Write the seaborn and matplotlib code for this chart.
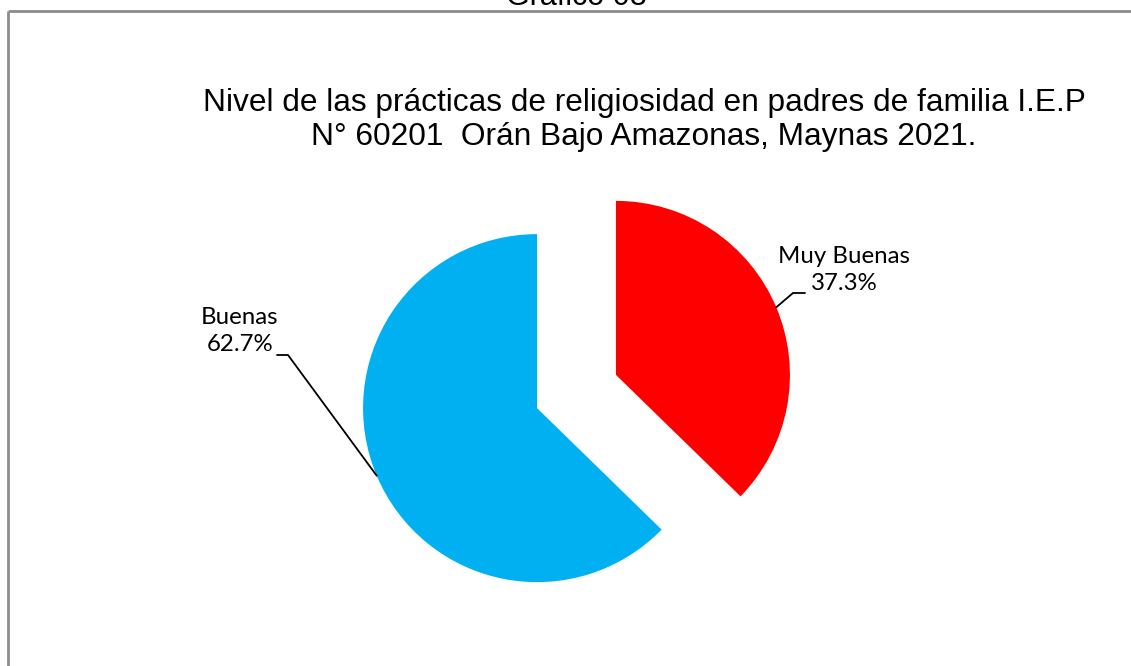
import numpy as np
import matplotlib
matplotlib.use("Agg")
import matplotlib.pyplot as plt
import seaborn as sns

categories = ["Muy Buenas", "Buenas"]
values = [37.3, 62.7]
colors = ["#FF0000", "#00B0F0"]
title_top = "Gráfico 08"
title = "Nivel de las prácticas de religiosidad en padres de familia I.E.P\nN° 60201  Orán Bajo Amazonas, Maynas 2021."

sns.set_theme(style="white")
plt.rcParams["font.family"] = ["Liberation Sans", "DejaVu Sans"]

W, H = 1131, 666
fig = plt.figure(figsize=(W / 100, H / 100), dpi=100)
fig.patch.set_facecolor("white")
ax = fig.add_axes([0, 0, 1, 1])

R = 174
cx, cy = 576.5, H - 391.5
expl = 0.246 * R
wedges, _ = ax.pie(values, colors=colors, startangle=90, counterclock=False,
                   explode=[expl, expl], radius=R, center=(cx, cy),
                   wedgeprops=dict(linewidth=0), frame=True)
ax.set_xlim(0, W)
ax.set_ylim(0, H)
ax.set_aspect("equal")
ax.axis("off")

# border
ax.plot([8, W + 5], [H - 11, H - 11], color="#8c8c8c", lw=2, solid_capstyle="butt", clip_on=False)
ax.plot([8, 8], [H - 11, -5], color="#8c8c8c", lw=2, solid_capstyle="butt", clip_on=False)

# top (cut) title and main title
ax.text(576, H - 5, title_top, ha="center", va="baseline", fontsize=22, color="black")
ax.text(644, H - 120, title, ha="center", va="center", fontsize=22.8, color="black",
        linespacing=1.17)

# labels with leader lines
label_pos = {"Muy Buenas": (844, H - 270), "Buenas": (240, H - 331)}
for w, cat, val in zip(wedges, categories, values):
    mid = np.deg2rad((w.theta1 + w.theta2) / 2)
    wx, wy = w.center
    ax_pt = (wx + w.r * np.cos(mid), wy + w.r * np.sin(mid))
    tx, ty = label_pos[cat]
    ax.text(tx, ty, f"{cat}\n{val:.1f}%", ha="center", va="center", fontsize=17.3,
            family=["Lato", "DejaVu Sans"], linespacing=1.35, color="black")
    if cat == "Buenas":
        elbow = (tx + 48, ty - 24)
        end = (elbow[0] - 11, elbow[1])
    else:
        elbow = (tx - 51, ty - 23)
        end = (elbow[0] + 12, elbow[1])
    ax.plot([ax_pt[0], elbow[0], end[0]], [ax_pt[1], elbow[1], end[1]],
            color="black", lw=1.3)

fig.savefig("out.png", dpi=100, facecolor="white")
